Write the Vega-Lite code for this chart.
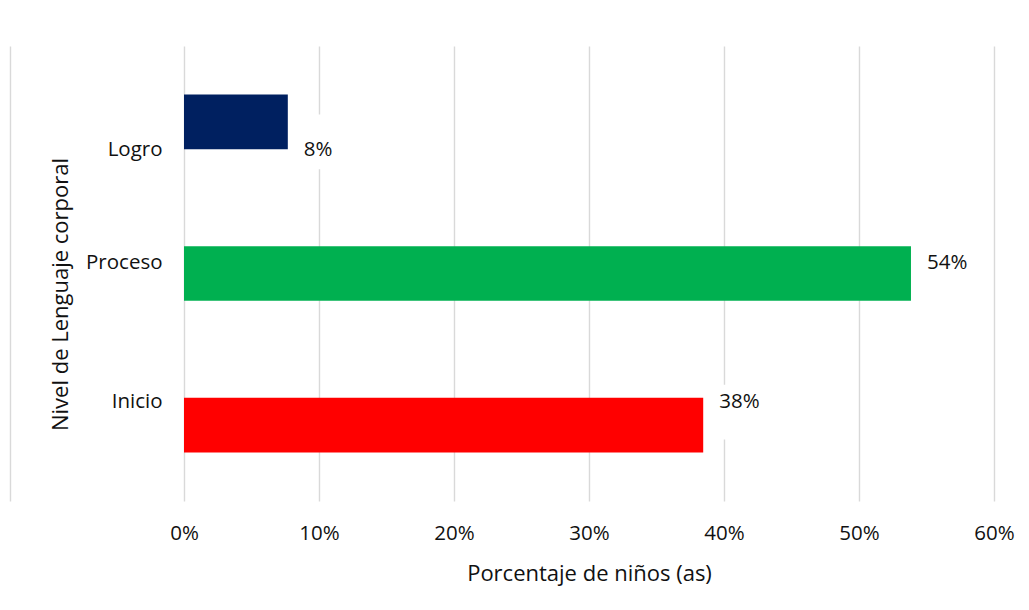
{
  "$schema": "https://vega.github.io/schema/vega-lite/v6.json",
  "autosize": {"type": "none"},
  "width": 810,
  "height": 455,
  "padding": {"left": 184, "top": 46, "right": 35, "bottom": 109},
  "background": "white",
  "config": {
    "view": {"stroke": null},
    "font": "Open Sans",
    "axis": {"labelFont": "Open Sans", "titleFont": "Open Sans", "labelColor": "#111111", "titleColor": "#111111", "titleFontWeight": "normal"}
  },
  "data": {
    "values": [
      {"nivel": "Logro", "pct": 0.0769},
      {"nivel": "Proceso", "pct": 0.5385},
      {"nivel": "Inicio", "pct": 0.3846}
    ]
  },
  "resolve": {"axis": {"y": "independent"}},
  "layer": [
    {
      "mark": {"type": "bar"},
      "encoding": {
        "y": {
          "field": "nivel",
          "type": "nominal",
          "sort": ["Logro", "Proceso", "Inicio"],
          "scale": {"paddingInner": 0.64, "paddingOuter": 0.32},
          "axis": {
            "title": "Nivel de Lenguaje corporal",
            "titleFontSize": 22,
            "titleX": -124,
            "titleY": 248,
            "titleBaseline": "middle",
            "titleAngle": -90,
            "labelFontSize": 20.5,
            "labelPadding": 22,
            "labelOffset": {"expr": "datum.value == 'Logro' ? 28 : datum.value == 'Proceso' ? -11 : -23"},
            "domain": false,
            "ticks": false,
            "grid": false
          }
        },
        "x": {
          "field": "pct",
          "type": "quantitative",
          "scale": {"domain": [0, 0.6], "nice": false},
          "axis": {
            "title": "Porcentaje de niños (as)",
            "titleFontSize": 22,
            "titleY": 72,
            "titleBaseline": "middle",
            "format": ".0%",
            "values": [0, 0.1, 0.2, 0.3, 0.4, 0.5, 0.6],
            "labelFontSize": 20.5,
            "labelPadding": 22,
            "labelFlush": false,
            "domain": false,
            "ticks": false,
            "grid": true,
            "gridColor": "#d9d9d9",
            "gridWidth": 1.4
          }
        },
        "color": {
          "field": "nivel",
          "type": "nominal",
          "scale": {"domain": ["Logro", "Proceso", "Inicio"], "range": ["#002060", "#00B050", "#FF0000"]},
          "legend": null
        }
      }
    },
    {
      "mark": {
        "type": "point",
        "shape": "M-0.8,-1H0.8V1H-0.8Z",
        "size": 3000,
        "filled": true,
        "color": "white",
        "opacity": 1,
        "xOffset": 35,
        "yOffset": {"expr": "datum.nivel == 'Logro' ? 20 : datum.nivel == 'Proceso' ? -11 : -13"}
      },
      "encoding": {
        "y": {
          "field": "nivel",
          "type": "nominal",
          "sort": ["Logro", "Proceso", "Inicio"],
          "axis": {
            "orient": "left",
            "offset": 174,
            "title": null,
            "labels": false,
            "ticks": false,
            "grid": false,
            "domain": true,
            "domainColor": "#d9d9d9",
            "domainWidth": 1.4
          }
        },
        "x": {"field": "pct", "type": "quantitative"}
      }
    },
    {
      "mark": {
        "type": "text",
        "align": "left",
        "baseline": "middle",
        "dx": 16,
        "dy": {"expr": "datum.nivel == 'Logro' ? 28 : datum.nivel == 'Proceso' ? -11 : -23"},
        "fontSize": 20.5,
        "font": "Open Sans",
        "color": "#111111"
      },
      "encoding": {
        "y": {"field": "nivel", "type": "nominal", "sort": ["Logro", "Proceso", "Inicio"], "axis": null},
        "x": {"field": "pct", "type": "quantitative"},
        "text": {"field": "pct", "type": "quantitative", "format": ".0%"}
      }
    }
  ]
}
